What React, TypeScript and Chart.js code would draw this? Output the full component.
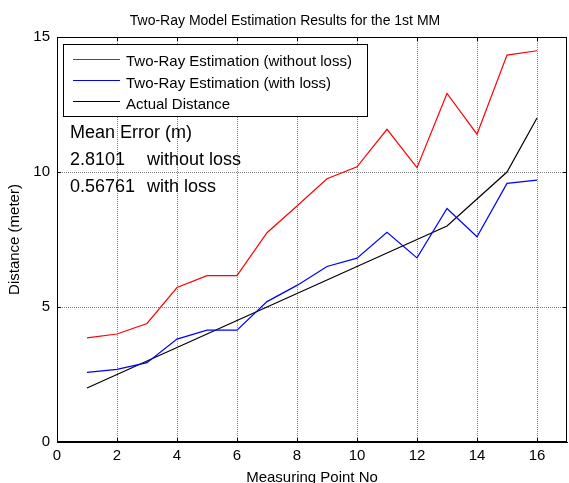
import React, { useEffect, useRef } from "react";
import { Chart, registerables } from "chart.js";

Chart.register(...registerables);

// Measuring point indices
const points = [1, 2, 3, 4, 5, 6, 7, 8, 9, 10, 11, 12, 13, 14, 15, 16];
// Two-ray estimate without path loss correction (m)
const withoutLoss = [3.86, 4.0, 4.39, 5.72, 6.16, 6.16, 7.75, 8.74, 9.75, 10.19, 11.58, 10.16, 12.91, 11.4, 14.33, 14.49];
// Two-ray estimate with path loss correction (m)
const withLoss = [2.58, 2.69, 2.94, 3.81, 4.14, 4.14, 5.2, 5.8, 6.5, 6.81, 7.77, 6.82, 8.65, 7.6, 9.58, 9.7];
// Actual distance (m)
const actual = [2, 2.5, 3, 3.5, 4, 4.5, 5, 5.5, 6, 6.5, 7, 7.5, 8, 9, 10, 12];

const xTicks = [0, 2, 4, 6, 8, 10, 12, 14, 16];
const yTicks = [0, 5, 10, 15];

const seriesLabels = [
  "Two-Ray Estimation (without loss)",
  "Two-Ray Estimation (with loss)",
  "Actual Distance",
];
const seriesColors = ["#ff0000", "#0000ff", "#000000"];

const titleText = "Two-Ray Model Estimation Results for the 1st MM";
const xLabel = "Measuring Point No";
const yLabel = "Distance (meter)";
const errorHeading = "Mean Error (m)";
const errorValues = ["2.8101", "0.56761"];
const errorNames = ["without loss", "with loss"];

const FONT = "Arial, 'Liberation Sans', sans-serif";

const decorations = {
  id: "decorations",
  afterDraw(chart: any) {
    const { ctx, chartArea } = chart;
    const { left, right, top, bottom } = chartArea;
    ctx.save();

    // axes box
    ctx.strokeStyle = "#000";
    ctx.lineWidth = 1;
    ctx.setLineDash([]);
    ctx.strokeRect(left + 0.5, top + 0.5, right - left - 1, bottom - top - 1);

    // inward tick marks on all four sides
    const xs = chart.scales.x;
    const ys = chart.scales.y;
    const tl = 4;
    ctx.beginPath();
    xTicks.forEach((v) => {
      const px = Math.round(xs.getPixelForValue(v)) + 0.5;
      ctx.moveTo(px, bottom);
      ctx.lineTo(px, bottom - tl);
      ctx.moveTo(px, top);
      ctx.lineTo(px, top + tl);
    });
    yTicks.forEach((v) => {
      const py = Math.round(ys.getPixelForValue(v)) + 0.5;
      ctx.moveTo(left, py);
      ctx.lineTo(left + tl, py);
      ctx.moveTo(right, py);
      ctx.lineTo(right - tl, py);
    });
    ctx.stroke();

    // title
    ctx.fillStyle = "#000";
    ctx.font = `14px ${FONT}`;
    ctx.textAlign = "center";
    ctx.textBaseline = "alphabetic";
    ctx.fillText(titleText, 285, 25);

    // axis titles
    ctx.font = `15px ${FONT}`;
    ctx.textBaseline = "middle";
    ctx.fillText(xLabel, (left + right) / 2, 478);
    ctx.save();
    ctx.translate(15, (top + bottom) / 2);
    ctx.rotate(-Math.PI / 2);
    ctx.fillText(yLabel, 0, 0);
    ctx.restore();

    // legend
    const lx = 63.5, ly = 44.5, lw = 304, lh = 72;
    ctx.fillStyle = "#fff";
    ctx.fillRect(lx, ly, lw, lh);
    ctx.strokeStyle = "#000";
    ctx.lineWidth = 1;
    ctx.strokeRect(lx, ly, lw, lh);
    const rowBase = [66, 88, 109];
    const rowLine = [59.5, 80.5, 101.5];
    ctx.font = `15px ${FONT}`;
    ctx.textAlign = "left";
    ctx.textBaseline = "alphabetic";
    seriesLabels.forEach((lab, i) => {
      ctx.strokeStyle = seriesColors[i];
      ctx.lineWidth = 1.2;
      ctx.beginPath();
      ctx.moveTo(73, rowLine[i]);
      ctx.lineTo(120, rowLine[i]);
      ctx.stroke();
      ctx.fillStyle = "#000";
      ctx.fillText(lab, 126, rowBase[i]);
    });

    // mean error annotation
    ctx.font = `18px ${FONT}`;
    ctx.fillStyle = "#000";
    ctx.fillText(errorHeading, 70, 138);
    const base = [165, 192];
    errorValues.forEach((v, i) => {
      ctx.fillText(v, 70, base[i]);
      ctx.fillText(errorNames[i], 147, base[i]);
    });

    ctx.restore();
  },
};

export default function App() {
  const ref = useRef<HTMLCanvasElement | null>(null);

  useEffect(() => {
    if (!ref.current) return;
    const mk = (data: number[], i: number) => ({
      label: seriesLabels[i],
      data: points.map((x, k) => ({ x, y: data[k] })),
      borderColor: seriesColors[i],
      backgroundColor: seriesColors[i],
      borderWidth: 1.2,
      pointRadius: 0,
      tension: 0,
      fill: false,
    });
    // dotted grey grid lines
    const gridStyle = {
      color: "rgba(0,0,0,0.5)",
      lineWidth: 1,
      drawTicks: false,
    };
    const borderStyle = { display: true, color: "#000", width: 1, dash: [1, 1] };
    const chart = new Chart(ref.current, {
      type: "line",
      data: {
        datasets: [mk(withoutLoss, 0), mk(withLoss, 1), mk(actual, 2)],
      },
      options: {
        animation: false,
        responsive: false,
        devicePixelRatio: 1,
        layout: { padding: { top: 37, right: 2, left: 0, bottom: 0 } },
        plugins: {
          legend: { display: false },
          title: { display: false },
          tooltip: { enabled: false },
        },
        scales: {
          x: {
            type: "linear",
            min: 0,
            max: 17,
            afterBuildTicks: (s: any) => {
              s.ticks = xTicks.map((value) => ({ value }));
            },
            afterFit: (s: any) => {
              s.height = 41;
            },
            ticks: {
              color: "#000",
              font: { family: FONT, size: 15 },
              padding: 5,
              maxRotation: 0,
            },
            grid: gridStyle,
            border: borderStyle,
          },
          y: {
            type: "linear",
            min: 0,
            max: 15,
            afterBuildTicks: (s: any) => {
              s.ticks = yTicks.map((value) => ({ value }));
            },
            afterFit: (s: any) => {
              s.width = 57;
            },
            ticks: {
              color: "#000",
              font: { family: FONT, size: 15 },
              padding: 7,
            },
            grid: gridStyle,
            border: borderStyle,
          },
        },
      },
      plugins: [decorations],
    } as any);
    return () => chart.destroy();
  }, []);

  return (
    <div style={{ position: "absolute", left: 0, top: 0, width: 569, height: 483, background: "#fff" }}>
      <canvas ref={ref} width={569} height={483} />
    </div>
  );
}
